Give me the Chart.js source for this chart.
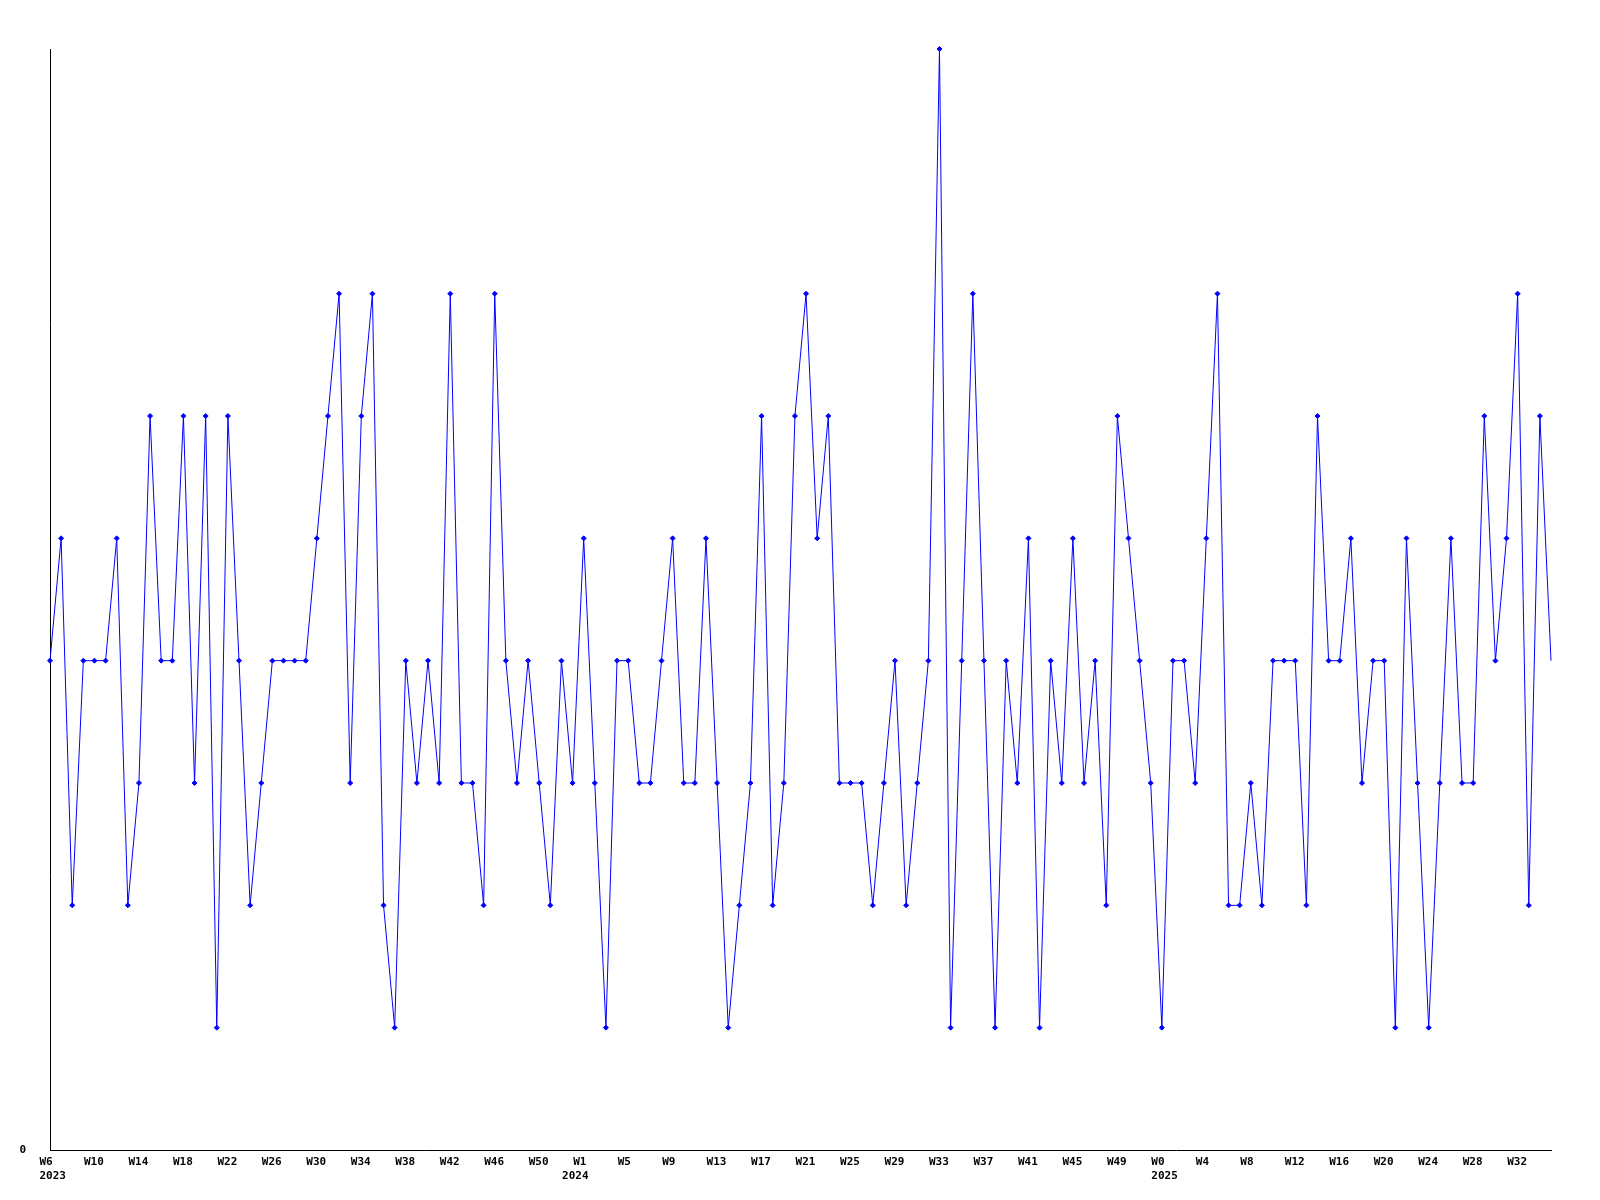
<!DOCTYPE html>
<html>
<head>
<meta charset="utf-8">
<script src="https://cdn.jsdelivr.net/npm/chart.js@4/dist/chart.umd.min.js"></script>
<style>
  html, body { margin: 0; padding: 0; background: #fff; }
  #wrap { width: 1600px; height: 1200px; }
</style>
</head>
<body>
<div id="wrap"><canvas id="chart" width="1600" height="1200"></canvas></div>
<script>
// week numbers per year, one point per week
const weeks2023 = [6, 7, 8, 9, 10, 11, 12, 13, 14, 15, 16, 17, 18, 19, 20, 21, 22, 23, 24, 25, 26, 27, 28, 29, 30,
    31, 32, 33, 34, 35, 36, 37, 38, 39, 40, 41, 42, 43, 44, 45, 46, 47, 48, 49, 50, 51, 52];
const weeks2024 = [0, 1, 2, 3, 4, 5, 6, 7, 8, 9, 10, 11, 12, 13, 14, 15, 16, 17, 18, 19, 20, 21, 22, 23, 24, 25, 26,
    27, 28, 29, 30, 31, 32, 33, 34, 35, 36, 37, 38, 39, 40, 41, 42, 43, 44, 45, 46, 47, 48, 49, 50, 51, 52];
const weeks2025 = [0, 1, 2, 3, 4, 5, 6, 7, 8, 9, 10, 11, 12, 13, 14, 15, 16, 17, 18, 19, 20, 21, 22, 23, 24, 25, 26,
    27, 28, 29, 30, 31, 32, 33, 34, 35];

const values = [
    4, 5, 2, 4, 4, 4, 5, 2, 3, 6,
    4, 4, 6, 3, 6, 1, 6, 4, 2, 3,
    4, 4, 4, 4, 5, 6, 7, 3, 6, 7,
    2, 1, 4, 3, 4, 3, 7, 3, 3, 2,
    7, 4, 3, 4, 3, 2, 4, 3, 5, 3,
    1, 4, 4, 3, 3, 4, 5, 3, 3, 5,
    3, 1, 2, 3, 6, 2, 3, 6, 7, 5,
    6, 3, 3, 3, 2, 3, 4, 2, 3, 4,
    9, 1, 4, 7, 4, 1, 4, 3, 5, 1,
    4, 3, 5, 3, 4, 2, 6, 5, 4, 3,
    1, 4, 4, 3, 5, 7, 2, 2, 3, 2,
    4, 4, 4, 2, 6, 4, 4, 5, 3, 4,
    4, 1, 5, 3, 1, 3, 5, 3, 3, 6,
    4, 5, 7, 2, 6, 4,
];

const yearWeeks = [['2023', weeks2023], ['2024', weeks2024], ['2025', weeks2025]];
const labels = [];
const yearStart = new Map();
yearWeeks.forEach(([year, weeks]) => {
    yearStart.set(labels.length, year);
    weeks.forEach((w) => labels.push('W' + w));
});

const tickText = (i) => {
    const week = i % 4 === 0 ? labels[i] : '';
    const year = yearStart.get(i);
    if (year) {
        return [week, year];
    }
    return week;
};

const font = { family: 'DejaVu Sans Mono', weight: 'bold', size: 11, lineHeight: 1.3 };

new Chart(document.getElementById('chart'), {
    type: 'line',
    data: {
        labels,
        datasets: [
            {
                data: values,
                borderColor: '#0000ff',
                borderWidth: 1,
                tension: 0,
                fill: false,
                clip: false,
                pointStyle: 'rectRot',
                pointRadius: (c) => (c.dataIndex === values.length - 1 ? 0 : 2.5),
                pointBackgroundColor: '#0000ff',
                pointBorderColor: '#0000ff',
                pointBorderWidth: 1,
            },
        ],
    },
    options: {
        responsive: false,
        animation: false,
        plugins: { legend: { display: false }, tooltip: { enabled: false } },
        layout: { padding: { top: 49, right: 49, left: 0, bottom: 0 } },
        scales: {
            x: {
                offset: false,
                grid: { display: false, drawTicks: false },
                border: { display: true, color: '#000', width: 1 },
                ticks: {
                    autoSkip: false,
                    maxRotation: 0,
                    minRotation: 0,
                    align: 'start',
                    labelOffset: -10.5,
                    padding: 5,
                    color: '#000',
                    font,
                    callback: (v, i) => tickText(i),
                },
                afterFit: (s) => { s.height = 50; },
            },
            y: {
                min: 0,
                max: 9,
                grid: { display: false, drawTicks: false },
                border: { display: true, color: '#000', width: 1 },
                ticks: {
                    stepSize: 1,
                    padding: 24,
                    color: '#000',
                    font,
                    callback: (v) => (v === 0 ? '0' : ''),
                },
                afterFit: (s) => { s.width = 50; },
            },
        },
    },
});
</script>
</body>
</html>
